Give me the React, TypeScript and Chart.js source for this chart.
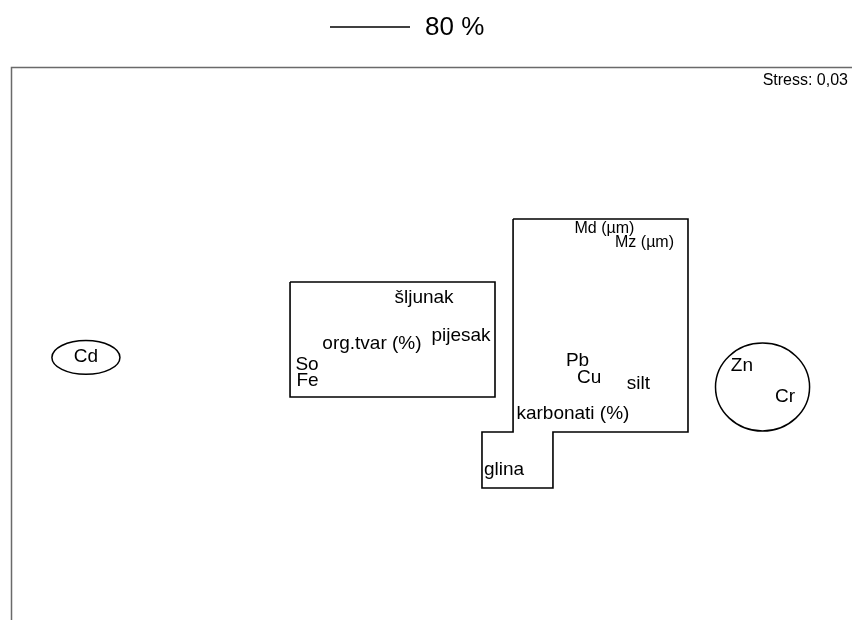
import React, { useEffect, useRef } from "react";
import { Chart, registerables } from "chart.js";

Chart.register(...registerables);

// NMDS ordination scores (dimension 1, dimension 2)
const variables = ["Cd", "Zn", "Cr", "šljunak", "pijesak", "org.tvar (%)", "So", "Fe", "Md (µm)", "Mz (µm)", "Pb", "Cu", "silt", "karbonati (%)", "glina"];
const dim1 = [-1.648, 1.476, 1.681, -0.038, 0.138, -0.286, -0.595, -0.593, 0.821, 1.012, 0.693, 0.748, 0.983, 0.671, 0.343];
const dim2 = [-0.071, -0.120, -0.288, 0.250, 0.043, 0.0, -0.114, -0.201, 0.625, 0.549, -0.092, -0.185, -0.217, -0.380, -0.685];

// 80 % similarity cluster outlines
const groupAX = [-0.676, 0.300, 0.300, -0.676, -0.676];
const groupAY = [0.337, 0.337, -0.288, -0.288, 0.337];
const groupBX = [0.386, 1.219, 1.219, 0.576, 0.576, 0.238, 0.238, 0.386, 0.386];
const groupBY = [0.679, 0.679, -0.478, -0.478, -0.783, -0.783, -0.478, -0.478, 0.679];
const ellipseCX = [-1.648, 1.574];
const ellipseCY = [-0.073, -0.234];
const ellipseRX = [0.162, 0.224];
const ellipseRY = [0.092, 0.239];

const stressText = "Stress: 0,03";
const similarityText = "80 %";

const FONT = "'Liberation Sans', Arial, sans-serif";

const toPoints = (xs: number[], ys: number[]) => xs.map((v, i) => ({ x: v, y: ys[i] }));

const nmdsPlugin = {
  id: "nmdsDecor",
  afterDatasetsDraw(chart: any) {
    const { ctx, chartArea } = chart;
    const xs = chart.scales.x;
    const ys = chart.scales.y;
    ctx.save();

    // frame (left and top)
    ctx.strokeStyle = "#6a6a6a";
    ctx.lineWidth = 1.5;
    ctx.beginPath();
    ctx.moveTo(chartArea.left - 0.5, chart.height);
    ctx.lineTo(chartArea.left - 0.5, chartArea.top - 0.5);
    ctx.lineTo(chart.width, chartArea.top - 0.5);
    ctx.stroke();

    // ellipses
    ctx.strokeStyle = "#000";
    ctx.lineWidth = 1.5;
    ellipseCX.forEach((cx, i) => {
      const px = xs.getPixelForValue(cx);
      const py = ys.getPixelForValue(ellipseCY[i]);
      const rx = Math.abs(xs.getPixelForValue(cx + ellipseRX[i]) - px);
      const ry = Math.abs(ys.getPixelForValue(ellipseCY[i] + ellipseRY[i]) - py);
      ctx.beginPath();
      ctx.ellipse(px, py, rx, ry, 0, 0, Math.PI * 2);
      ctx.stroke();
    });

    // variable labels
    const meta = chart.getDatasetMeta(0);
    ctx.fillStyle = "#000";
    ctx.textAlign = "center";
    ctx.textBaseline = "middle";
    meta.data.forEach((pt: any, i: number) => {
      const name = variables[i];
      const size = name.startsWith("M") ? 16 : 19;
      ctx.font = `${size}px ${FONT}`;
      ctx.fillText(name, pt.x, pt.y);
    });

    // stress
    ctx.font = `16px ${FONT}`;
    ctx.textAlign = "right";
    ctx.fillText(stressText, chart.width - 4, chartArea.top + 13);

    // legend
    ctx.strokeStyle = "#000";
    ctx.lineWidth = 1.5;
    ctx.beginPath();
    ctx.moveTo(330, 27);
    ctx.lineTo(410, 27);
    ctx.stroke();
    ctx.font = `26px ${FONT}`;
    ctx.textAlign = "left";
    ctx.fillText(similarityText, 425, 28);

    ctx.restore();
  },
};

export default function App() {
  const ref = useRef<HTMLCanvasElement | null>(null);

  useEffect(() => {
    if (!ref.current) return;
    const outline = {
      showLine: true,
      borderColor: "#000",
      borderWidth: 1.6,
      pointRadius: 0,
      fill: false,
      tension: 0,
    };
    const chart = new Chart(ref.current, {
      type: "scatter",
      data: {
        datasets: [
          { label: "variables", data: toPoints(dim1, dim2), pointRadius: 0, showLine: false },
          { label: similarityText, data: toPoints(groupAX, groupAY), ...outline },
          { label: similarityText + " B", data: toPoints(groupBX, groupBY), ...outline },
        ],
      },
      options: {
        animation: false,
        responsive: false,
        devicePixelRatio: 1,
        layout: { padding: { left: 12, top: 68, right: 0, bottom: 0 } },
        plugins: { legend: { display: false }, tooltip: { enabled: false }, title: { display: false } },
        scales: {
          x: { type: "linear", min: -2, max: 2, display: false },
          y: { type: "linear", min: -1.5, max: 1.5, display: false },
        },
      },
      plugins: [nmdsPlugin],
    });
    return () => chart.destroy();
  }, []);

  return (
    <div style={{ position: "fixed", left: 0, top: 0, width: 852, height: 620, background: "#fff" }}>
      <canvas ref={ref} width={852} height={620} style={{ width: 852, height: 620, display: "block" }} />
    </div>
  );
}
